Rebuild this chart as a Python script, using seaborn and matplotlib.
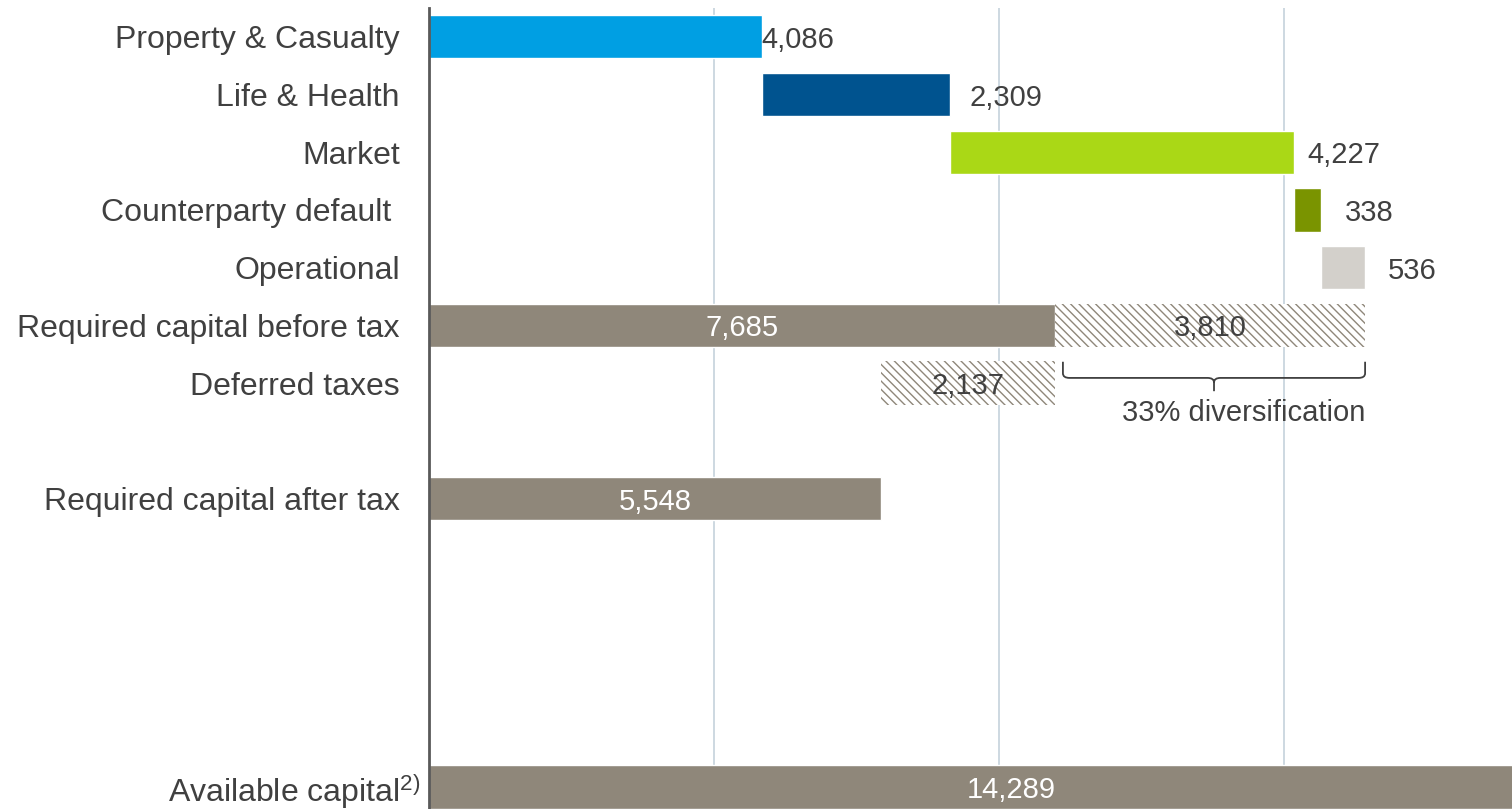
import numpy as np
import pandas as pd
import matplotlib
matplotlib.use("Agg")
import matplotlib.pyplot as plt
from matplotlib.path import Path
from matplotlib.patches import PathPatch
from matplotlib.transforms import ScaledTranslation
import seaborn as sns

# ---- data ----------------------------------------------------------------
risk_labels = ["Property & Casualty", "Life & Health", "Market",
               "Counterparty default ", "Operational"]
risk_values = [4086, 2309, 4227, 338, 536]
risk_colors = ["#009FE3", "#00538F", "#AAD816", "#7A9400", "#D3D0CB"]
# gap between bar end and its label, in points
risk_label_pad = [0, 14, 10, 17, 16]

before_tax = 7685
diversification = 3810
deferred_taxes = 2137
after_tax = 5548
available = 14289

row_labels = risk_labels + [
    "Required capital before tax", "Deferred taxes", "",
    "Required capital after tax", "", "", "", "",
    "Available capital$^{2)}$",
]
grid_ticks = [3500, 7000, 10500]

# ---- style ---------------------------------------------------------------
sns.set_theme(style="white")
plt.rcParams["font.family"] = ["Liberation Sans", "DejaVu Sans"]
plt.rcParams["mathtext.fontset"] = "custom"
plt.rcParams["mathtext.rm"] = "Liberation Sans"
plt.rcParams["mathtext.default"] = "regular"
plt.rcParams["hatch.linewidth"] = 1.0
plt.rcParams["hatch.color"] = "#8F877A"

TXT = "#404040"
GREY = "#8F877A"
BAR_H = 0.75
VAL_FS = 21

fig = plt.figure(figsize=(15.12, 8.09), dpi=100)
ax = fig.add_axes([429 / 1512, 0.0, 1 - 429 / 1512, 1 - 8 / 809])

# unique keys so the empty spacer rows keep their own slot
keys = [f"r{i}" for i in range(len(row_labels))]

# totals that start at zero, drawn by seaborn on the categorical axis
totals = pd.DataFrame({
    "row": [keys[5], keys[8], keys[13]],
    "value": [before_tax, after_tax, available],
})
sns.barplot(data=totals, x="value", y="row", order=keys, orient="h",
            color=GREY, saturation=1, width=BAR_H, ax=ax, zorder=2)

# floating risk bars of the waterfall
lefts = np.concatenate([[0], np.cumsum(risk_values)[:-1]])
for i, (v, l, c) in enumerate(zip(risk_values, lefts, risk_colors)):
    ax.barh(i, v, left=l, height=BAR_H, color=c, zorder=2)
    ax.annotate(f"{v:,}", xy=(l + v, i), xytext=(risk_label_pad[i], 0),
                textcoords="offset points", ha="left", va="center_baseline",
                fontsize=VAL_FS, color=TXT)

# diversification and deferred taxes (hatched)
ax.barh(5, diversification, left=before_tax, height=BAR_H, facecolor="white",
        edgecolor=GREY, hatch="\\\\\\\\", linewidth=0, zorder=2)
ax.barh(6, deferred_taxes, left=after_tax, height=BAR_H, facecolor="white",
        edgecolor=GREY, hatch="\\\\\\\\", linewidth=0, zorder=2)

# labels inside bars
inside = dict(ha="center", va="center_baseline", fontsize=VAL_FS, zorder=3)
ax.text(before_tax / 2, 5, f"{before_tax:,}", color="white", **inside)
ax.text(before_tax + diversification / 2, 5, f"{diversification:,}",
        color=TXT, **inside)
ax.text(after_tax + deferred_taxes / 2, 6, f"{deferred_taxes:,}",
        color=TXT, **inside)
ax.text(after_tax / 2, 8, f"{after_tax:,}", color="white", **inside)
ax.text(available / 2, 13, f"{available:,}", color="white", **inside)

# curly brace under the diversification bar
gross = sum(risk_values)
xl = before_tax + 100
xr = gross
xm = (xl + xr) / 2
y_top, y_mid, y_tip = 5.63, 5.91, 6.14
rx, ry = 80, 0.08
verts = [
    (xl, y_top), (xl, y_mid - ry),
    (xl, y_mid), (xl + rx, y_mid),
    (xm - rx, y_mid),
    (xm, y_mid), (xm, y_mid + ry),
    (xm, y_tip),
    (xm, y_mid + ry),
    (xm, y_mid), (xm + rx, y_mid),
    (xr - rx, y_mid),
    (xr, y_mid), (xr, y_mid - ry),
    (xr, y_top),
]
codes = [Path.MOVETO, Path.LINETO,
         Path.CURVE3, Path.CURVE3,
         Path.LINETO,
         Path.CURVE3, Path.CURVE3,
         Path.LINETO,
         Path.MOVETO,
         Path.CURVE3, Path.CURVE3,
         Path.LINETO,
         Path.CURVE3, Path.CURVE3,
         Path.LINETO]
ax.add_patch(PathPatch(Path(verts, codes), facecolor="none", edgecolor=TXT,
                       linewidth=1.3, zorder=3))
share = round(diversification / gross * 100)
ax.text(xr, 6.47, f"{share}% diversification", ha="right",
        va="center_baseline", fontsize=VAL_FS, color=TXT, zorder=3)

# ---- axes ----------------------------------------------------------------
ax.set_xlim(0, 13300)
ax.set_ylim(13.38, -0.5)
ax.set_xticks(grid_ticks)
ax.xaxis.grid(True, color="#C9D5DE", linewidth=1.3, zorder=0)
ax.yaxis.grid(False)
ax.set_axisbelow(True)
ax.tick_params(axis="x", length=0, labelbottom=False)
ax.set_yticks(range(len(row_labels)))
ax.set_yticklabels(row_labels, fontsize=23, color=TXT)
ax.tick_params(axis="y", length=0, pad=21)
ax.set_xlabel("")
ax.set_ylabel("")
# the footnote marker hangs past the common right edge of the labels
last = ax.get_yticklabels()[-1]
last.set_transform(last.get_transform()
                   + ScaledTranslation(0.2, 0, fig.dpi_scale_trans))
for side in ["top", "right", "bottom"]:
    ax.spines[side].set_visible(False)
ax.spines["left"].set_color("#595959")
ax.spines["left"].set_linewidth(2)
ax.spines["left"].set_zorder(4)

fig.savefig("out.png", dpi=100)
